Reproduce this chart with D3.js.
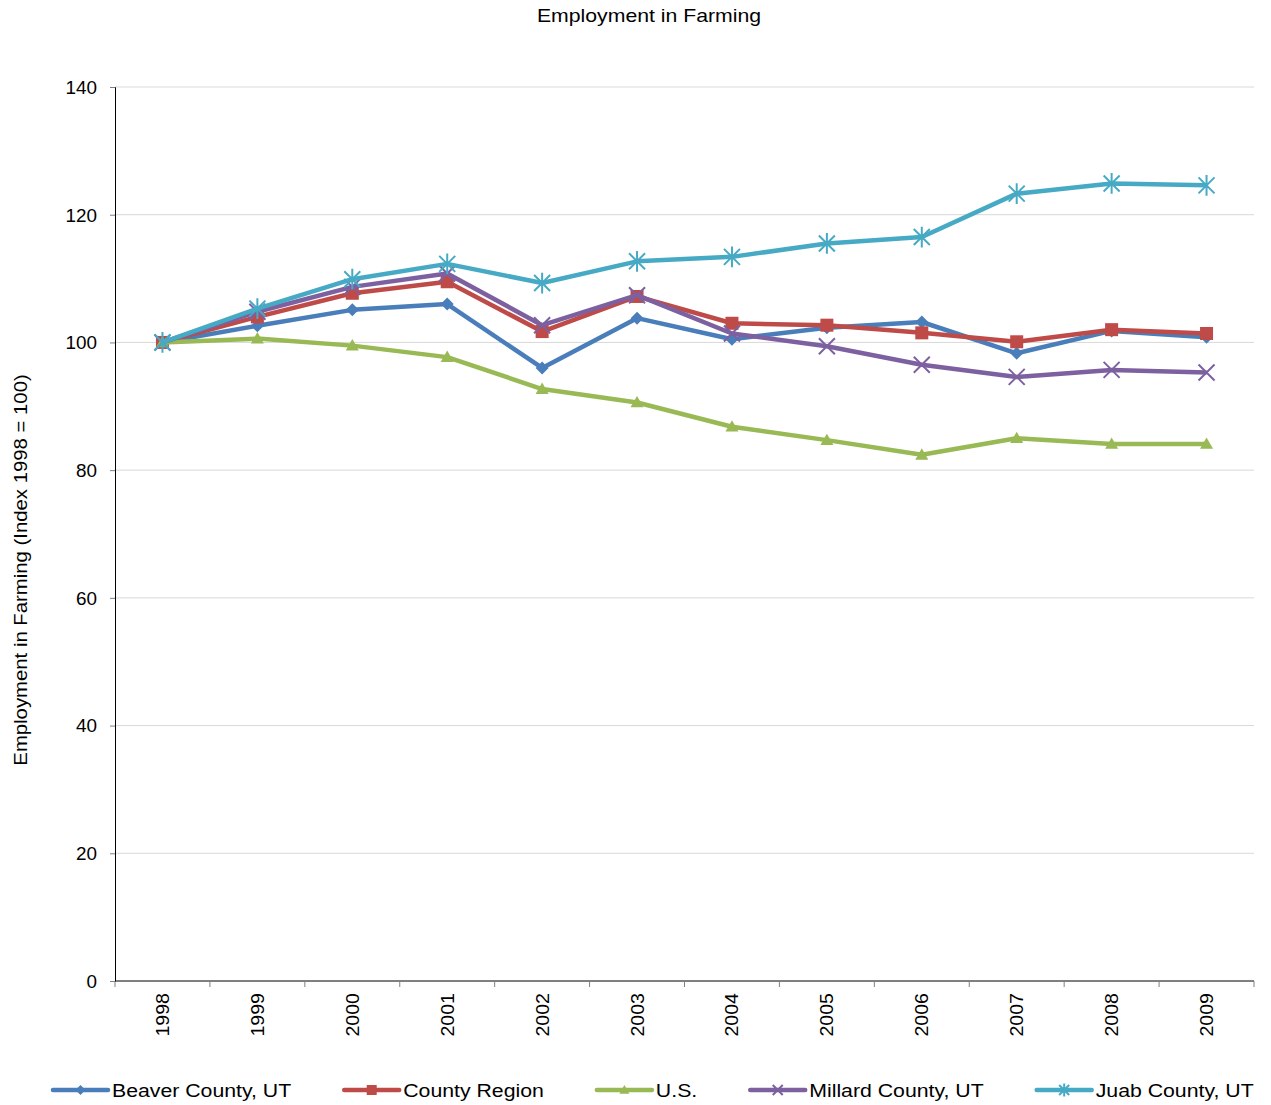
<!DOCTYPE html>
<html><head><meta charset="utf-8">
<script src="https://cdn.jsdelivr.net/npm/d3@7"></script>
<style>body{margin:0;background:#fff;font-family:"Liberation Sans",Arial,sans-serif;}</style>
</head><body>
<svg id="c" width="1271" height="1105" font-family="Liberation Sans, Arial, sans-serif"></svg>
<script>
const years = ["1998","1999","2000","2001","2002","2003","2004","2005","2006","2007","2008","2009"];
const beaver = [100,102.6,105.1,106.0,96.0,103.8,100.5,102.3,103.2,98.3,101.8,100.8];
const region = [100,104.0,107.7,109.5,101.7,107.2,103.0,102.7,101.5,100.1,102.0,101.4];
const us = [100,100.6,99.5,97.7,92.7,90.6,86.8,84.7,82.4,85.0,84.1,84.1];
const millard = [100,104.8,108.7,110.8,102.7,107.4,101.4,99.4,96.5,94.6,95.7,95.3];
const juab = [100,105.3,109.9,112.3,109.3,112.7,113.4,115.5,116.5,123.3,124.9,124.6];
const yTicks = [0,20,40,60,80,100,120,140];
const seriesNames = ["Beaver County, UT","County Region","U.S.","Millard County, UT","Juab County, UT"];

const colors = ["#4a7ebb","#be4b48","#98b954","#7d60a0","#46aac5"];
const markers = ["diamond","square","triangle","x","star"];
const series = [beaver, region, us, millard, juab].map((v,i)=>({name:seriesNames[i],values:v,color:colors[i],marker:markers[i]}));

const svg = d3.select("#c");
const L=115,R=1254,T=87,B=981;
const x = d3.scaleBand().domain(years).range([L,R]);
const y = d3.scaleLinear().domain([0,140]).range([B,T]);

// gridlines
svg.append("g").selectAll("line").data(yTicks.filter(d=>d>0)).join("line")
  .attr("x1",L).attr("x2",R).attr("y1",d=>y(d)).attr("y2",d=>y(d))
  .attr("stroke","#d9d9d9").attr("stroke-width",1);

// y axis
const ya = svg.append("g").attr("transform",`translate(${L},0)`)
  .call(d3.axisLeft(y).tickValues(yTicks).tickSize(5).tickPadding(0));
ya.select(".domain").attr("stroke","#000");
ya.selectAll(".tick line").attr("stroke","#808080");
ya.selectAll(".tick text").remove();
ya.selectAll(".tick").append("text")
  .attr("transform",`translate(-18,0) scale(1.05,1)`)
  .attr("text-anchor","end").attr("dy","0.35em")
  .attr("font-size",18).attr("fill","#000").attr("font-family","Liberation Sans, Arial, sans-serif")
  .text(d=>d);

// x axis
const xa = svg.append("g").attr("transform",`translate(0,${B})`);
xa.append("line").attr("x1",L).attr("x2",R).attr("y1",0).attr("y2",0).attr("stroke","#000");
const bounds = years.map(d=>x(d)).concat([R]);
xa.selectAll("line.tk").data(bounds).join("line").attr("class","tk")
  .attr("x1",d=>d).attr("x2",d=>d).attr("y1",0).attr("y2",6).attr("stroke","#808080");
xa.selectAll("text").data(years).join("text")
  .attr("transform",d=>`translate(${x(d)+x.bandwidth()/2+6.5},12) rotate(-90) scale(1.12,1)`)
  .attr("text-anchor","end").attr("font-size",17.5).attr("fill","#000")
  .text(d=>d);

// lines
const line = d3.line().x((d,i)=>x(years[i])+x.bandwidth()/2).y(d=>y(d));
function drawMarker(g,type,color,size){
  const s=size;
  if(type==="diamond"){
    g.append("path").attr("d",`M0,${-s}L${s},0L0,${s}L${-s},0Z`).attr("fill",color);
  } else if(type==="square"){
    g.append("rect").attr("x",-s).attr("y",-s).attr("width",2*s).attr("height",2*s).attr("fill",color);
  } else if(type==="triangle"){
    g.append("path").attr("d",`M0,${-s}L${s},${s*0.75}L${-s},${s*0.75}Z`).attr("fill",color);
  } else if(type==="x"){
    g.append("path").attr("d",`M${-s},${-s}L${s},${s}M${-s},${s}L${s},${-s}`).attr("stroke",color).attr("stroke-width",2);
  } else if(type==="star"){
    g.append("path").attr("d",`M${-s},${-s}L${s},${s}M${-s},${s}L${s},${-s}M0,${-s*1.3}L0,${s*1.3}`).attr("stroke",color).attr("stroke-width",2);
  }
}
const sizes = {diamond:6.5,square:6.5,triangle:6.5,x:8,star:8};
series.forEach(s=>{
  const g = svg.append("g");
  g.append("path").datum(s.values).attr("d",line).attr("fill","none")
    .attr("stroke",s.color).attr("stroke-width",4.5).attr("stroke-linejoin","round");
  s.values.forEach((v,i)=>{
    const m = g.append("g").attr("transform",`translate(${x(years[i])+x.bandwidth()/2},${y(v)})`);
    drawMarker(m,s.marker,s.color,sizes[s.marker]);
  });
});

// title
svg.append("text").attr("transform",`translate(649,22) scale(1.18,1)`).attr("text-anchor","middle")
  .attr("font-size",18).attr("fill","#000").text("Employment in Farming");

// y label
svg.append("text").attr("transform","translate(27,570) rotate(-90) scale(1.13,1)").attr("text-anchor","middle")
  .attr("font-size",18).attr("fill","#000").text("Employment in Farming (Index 1998 = 100)");

// legend
let lx = 53;
series.forEach((s,i)=>{
  const g = svg.append("g").attr("transform",`translate(${lx},1090)`);
  g.append("line").attr("x1",0).attr("x2",55).attr("stroke",s.color).attr("stroke-width",4.5).attr("stroke-linecap","round");
  const m = g.append("g").attr("transform","translate(27.5,0)");
  drawMarker(m,s.marker,s.color,5);
  const t = g.append("text").attr("transform","translate(59,7) scale(1.15,1)").attr("font-size",18.5).attr("fill","#000").text(s.name);
  const w = t.node().getComputedTextLength()*1.15;
  lx += 59 + w + 53;
});
</script>
</body></html>
